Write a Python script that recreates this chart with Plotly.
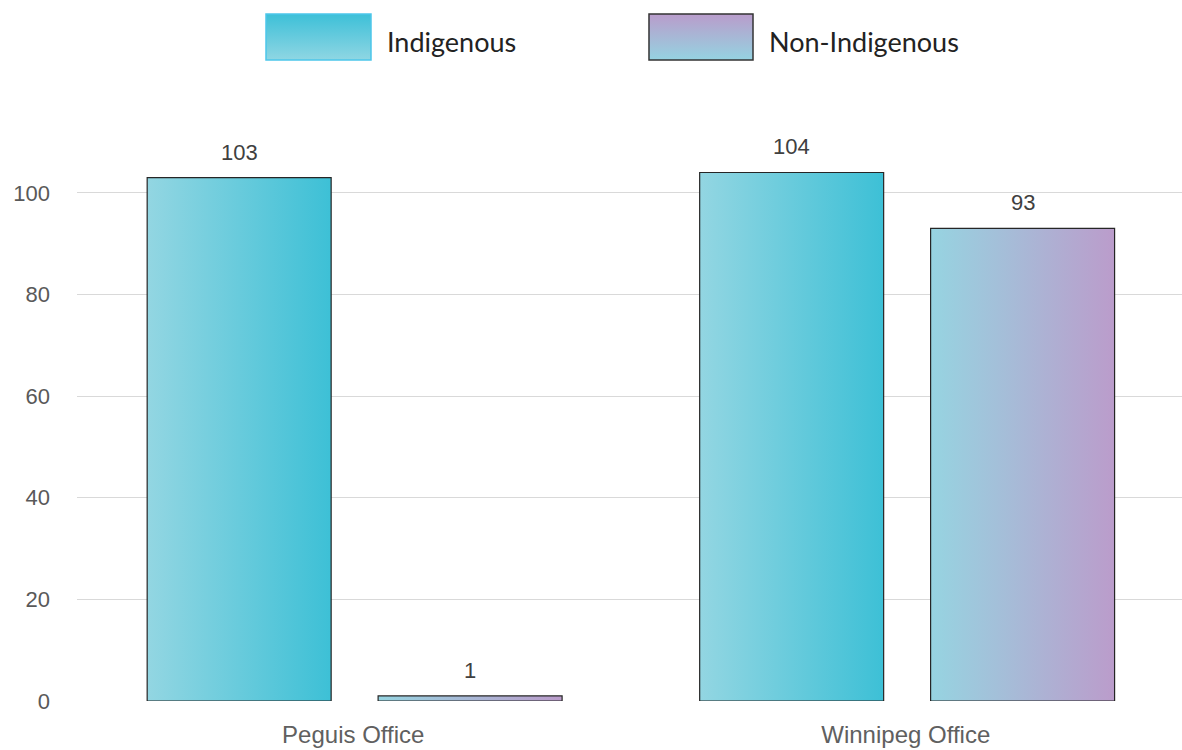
import base64
import plotly.graph_objects as go

categories = ["Peguis Office", "Winnipeg Office"]
series_names = ["Indigenous", "Non-Indigenous"]
indigenous = [103, 104]
non_indigenous = [1, 93]
y_ticks = [0, 20, 40, 60, 80, 100]

values = [indigenous, non_indigenous]
gradients = [
    [[0, "#93d6e2"], [1, "#3dc0d6"]],
    [[0, "#96d4e1"], [1, "#bb9ccb"]],
]
offsets = [-0.373, 0.045]
bar_w = 0.333

fig = go.Figure()
xc = list(range(len(categories)))

for s, name in enumerate(series_names):
    for i, c in enumerate(xc):
        x0 = c + offsets[s]
        x1 = x0 + bar_w
        v = values[s][i]
        fig.add_trace(go.Scatter(
            x=[x0, x1, x1, x0, x0], y=[0, 0, v, v, 0],
            mode="lines", fill="toself",
            fillgradient=dict(type="horizontal", colorscale=gradients[s]),
            line=dict(color="#262626", width=1.2),
            name=name, showlegend=False, hoverinfo="skip",
        ))
        fig.add_annotation(x=c + offsets[s] + bar_w / 2, y=v, text=str(v),
                           showarrow=False, yanchor="bottom", yshift=11,
                           font=dict(family="Liberation Sans, Arial", size=22, color="#404040"))

# legend swatches (vertical gradients)
def swatch(c_top, c_bot, stroke):
    svg = ("<svg xmlns='http://www.w3.org/2000/svg' width='107' height='48'>"
           "<defs><linearGradient id='g' x1='0' y1='0' x2='0' y2='1'>"
           f"<stop offset='0' stop-color='{c_top}'/><stop offset='1' stop-color='{c_bot}'/>"
           "</linearGradient></defs>"
           f"<rect x='1' y='1' width='105' height='46' fill='url(#g)' stroke='{stroke}' stroke-width='1.5'/></svg>")
    return "data:image/svg+xml;base64," + base64.b64encode(svg.encode()).decode()

L, T, W, H = 77, 142, 1105, 559
def px(x):
    return (x - L) / W
def py(y):
    return (T + H - y) / H

legend_items = [
    (265, 372, swatch("#3dc0d8", "#8fd6e3", "#4cc6ea"), 385, series_names[0]),
    (648, 754, swatch("#b99ccb", "#95d3e1", "#333333"), 767, series_names[1]),
]
for xa, xb, src, tx, label in legend_items:
    fig.add_layout_image(source=src, xref="paper", yref="paper",
                         x=px(xa), y=py(13), sizex=px(xb) - px(xa), sizey=py(13) - py(61),
                         xanchor="left", yanchor="top", sizing="stretch", layer="above")
    fig.add_annotation(xref="paper", yref="paper", x=px(tx), y=py(42), text=label,
                       showarrow=False, xanchor="left", yanchor="middle",
                       font=dict(family="Lato, Open Sans", size=27, color="#222222"))

fig.update_layout(
    width=1182, height=750,
    margin=dict(l=L, r=1182 - L - W, t=T, b=750 - T - H),
    paper_bgcolor="white", plot_bgcolor="white",
    showlegend=False,
    xaxis=dict(range=[-0.5, 1.5], tickvals=xc, ticktext=categories,
               showgrid=False, zeroline=False, showline=False,
               ticklabelstandoff=17,
               tickfont=dict(family="Liberation Sans Narrow, Liberation Sans", size=24, color="#606060")),
    yaxis=dict(range=[0, 110], tickvals=y_ticks, showgrid=True, gridcolor="#d9d9d9",
               gridwidth=1.3, zeroline=False, showline=False, ticklabelstandoff=26,
               tickfont=dict(family="Liberation Sans, Arial", size=22, color="#595959")),
)

fig.write_html("out.html")
